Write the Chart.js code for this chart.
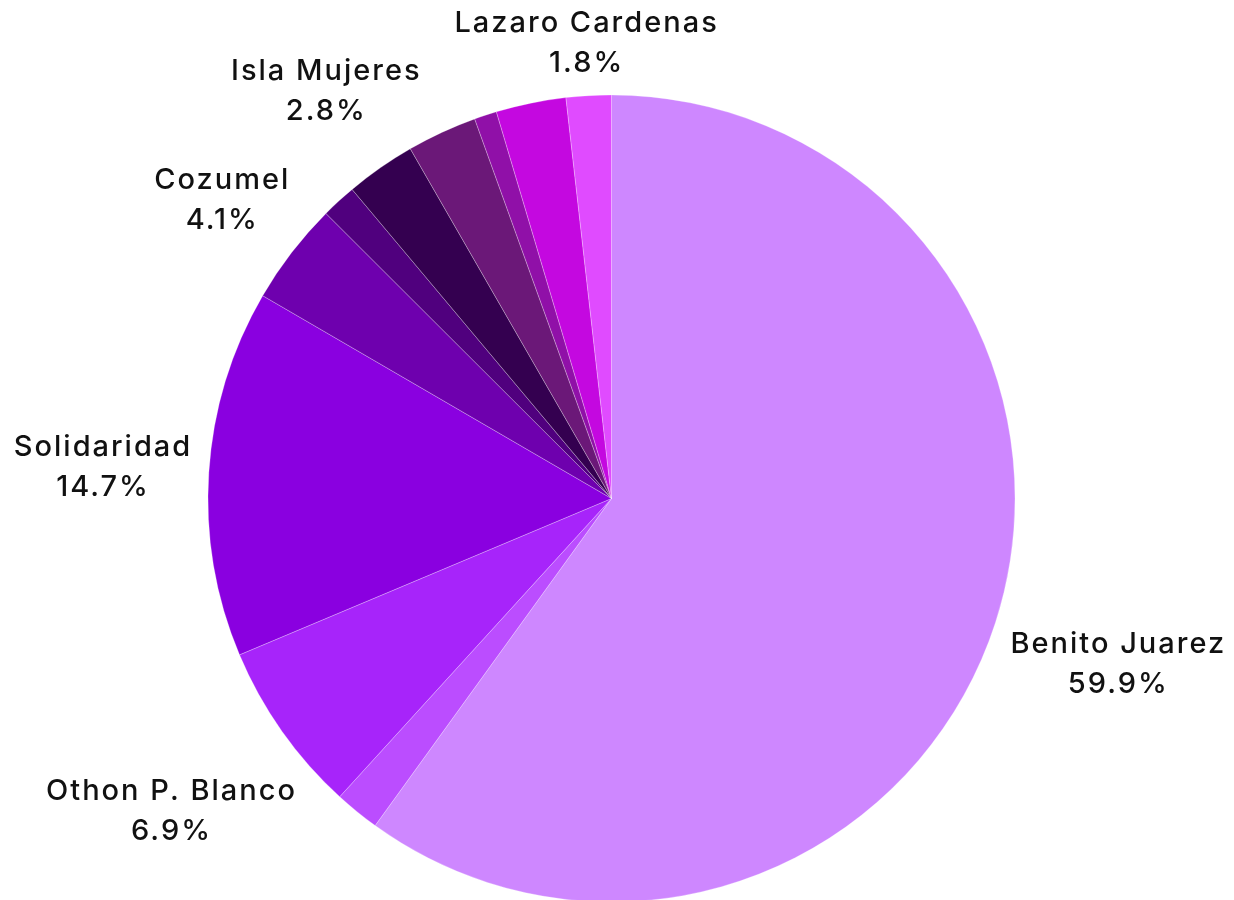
<!DOCTYPE html>
<html>
<head>
<meta charset="utf-8">
<script src="https://cdn.jsdelivr.net/npm/chart.js@4"></script>
<style>
  html, body { margin: 0; padding: 0; background: #fff; }
  #wrap { width: 1234px; height: 900px; }
</style>
</head>
<body>
<div id="wrap"><canvas id="pieChart" width="1234" height="900"></canvas></div>
<script>
// municipios, clockwise from 12 o'clock
const municipios = [
  "Benito Juarez", "Bacalar", "Othon P. Blanco", "Solidaridad", "Cozumel",
  "Felipe Carrillo Puerto", "Isla Mujeres", "Tulum", "Jose Maria Morelos",
  "Puerto Morelos", "Lazaro Cardenas"
];
const porcentajes = [59.9, 1.8, 6.9, 14.7, 4.1, 1.4, 2.8, 2.8, 0.9, 2.8, 1.8];
const etiquetasVisibles = ["Benito Juarez", "Othon P. Blanco", "Solidaridad", "Cozumel", "Isla Mujeres", "Lazaro Cardenas"];
const colores = [
  "#ce87ff", "#bb4dff", "#a724fa", "#8a00e0", "#6e00ae",
  "#50007e", "#340050", "#6b1878", "#9010a8", "#c408e0", "#e04bff"
];

const labelFont = "500 29px Inter";
const lineGap = 40;

// draws "name / value%" outside each labelled slice
const outsideLabels = {
  id: "outsideLabels",
  afterDatasetsDraw(chart) {
    const ctx = chart.ctx;
    const meta = chart.getDatasetMeta(0);
    ctx.save();
    ctx.font = labelFont;
    ctx.letterSpacing = "2px";
    ctx.fillStyle = "#111";
    ctx.textAlign = "center";
    ctx.textBaseline = "alphabetic";
    meta.data.forEach((arc, i) => {
      const name = chart.data.labels[i];
      if (!etiquetasVisibles.includes(name)) return;
      const p = arc.getProps(["x", "y", "startAngle", "endAngle", "outerRadius"], true);
      const mid = (p.startAngle + p.endAngle) / 2;
      const vx = Math.cos(mid), vy = Math.sin(mid);
      const value = chart.data.datasets[0].data[i].toFixed(1) + "%";
      const w = Math.max(ctx.measureText(name).width, ctx.measureText(value).width);
      const d = p.outerRadius + 16 + Math.abs(vx) * w / 2 + Math.abs(vy) * 31;
      const cx = p.x + vx * d + 1;
      const cy = p.y + vy * d;
      ctx.fillText(name, cx, cy - lineGap / 2 + 10.5);
      ctx.fillText(value, cx, cy + lineGap / 2 + 10.5);
    });
    ctx.restore();
  }
};

new Chart(document.getElementById("pieChart"), {
  type: "pie",
  data: {
    labels: municipios,
    datasets: [{
      data: porcentajes,
      backgroundColor: colores,
      borderColor: "rgba(255,255,255,0.45)",
      borderWidth: 0.6,
      clip: false
    }]
  },
  options: {
    responsive: false,
    animation: false,
    radius: 403.5,
    layout: { padding: { top: 97, right: 11, bottom: 0, left: 0 } },
    plugins: {
      legend: { display: false },
      tooltip: { enabled: false }
    }
  },
  plugins: [outsideLabels]
});
</script>
</body>
</html>
